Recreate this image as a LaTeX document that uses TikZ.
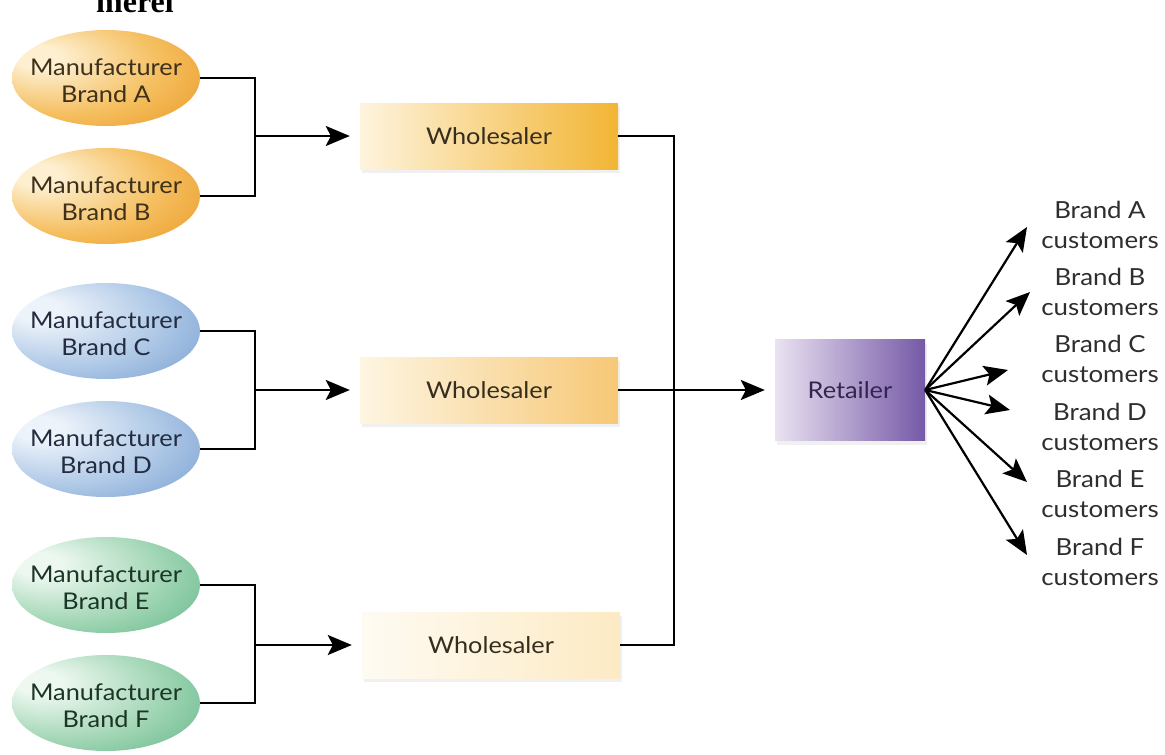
\documentclass[tikz,border=0pt]{standalone}
\usepackage{fontspec}
\setmainfont[FakeStretch=1.1]{Lato}
\newfontfamily\cutserif{Liberation Serif}
\usetikzlibrary{arrows.meta,shapes.geometric,shadows}

% palette
\definecolor{orL}{HTML}{FDEFCF}
\definecolor{orM}{HTML}{F5BE5E}
\definecolor{orD}{HTML}{E68E17}
\definecolor{blL}{HTML}{EDF3FA}
\definecolor{blM}{HTML}{AEC8E6}
\definecolor{blD}{HTML}{6893CB}
\definecolor{grL}{HTML}{EDF8F0}
\definecolor{grM}{HTML}{A2D6B5}
\definecolor{grD}{HTML}{4FAE7B}
\definecolor{txO}{HTML}{3E301A}
\definecolor{txB}{HTML}{232C40}
\definecolor{txG}{HTML}{1B3526}
\definecolor{txW}{HTML}{352D1E}
\definecolor{wgold}{HTML}{F2B534}
\definecolor{rtL}{HTML}{EAE2F2}
\definecolor{rtD}{HTML}{7559A6}
\definecolor{rtT}{HTML}{352450}
\definecolor{custT}{HTML}{2E2E2E}

% highlight sits up and to the left on each manufacturer oval
\pgfdeclareradialshading{orangeball}{\pgfpoint{-20bp}{12bp}}{%
  color(0bp)=(orL); color(6bp)=(orL); color(26bp)=(orM); color(48bp)=(orD); color(60bp)=(orD)}
\pgfdeclareradialshading{blueball}{\pgfpoint{-20bp}{12bp}}{%
  color(0bp)=(blL); color(6bp)=(blL); color(26bp)=(blM); color(48bp)=(blD); color(60bp)=(blD)}
\pgfdeclareradialshading{greenball}{\pgfpoint{-20bp}{12bp}}{%
  color(0bp)=(grL); color(6bp)=(grL); color(26bp)=(grM); color(48bp)=(grD); color(60bp)=(grD)}

\tikzset{
  manu/.style={ellipse, minimum width=188pt, minimum height=96pt, inner sep=0pt},
  mtext/.style={align=center, inner sep=0pt, yshift=-3pt, font=\fontsize{23}{27}\selectfont},
  whole/.style={rectangle, minimum width=258pt, minimum height=66pt, inner sep=0pt,
    text=txW, font=\fontsize{23}{27}\selectfont,
    drop shadow={opacity=0.12, shadow xshift=2pt, shadow yshift=-4pt}},
  shop/.style={rectangle, minimum width=150pt, minimum height=101pt, inner sep=0pt,
    left color=rtL, right color=rtD, text=rtT, font=\fontsize{23}{27}\selectfont,
    drop shadow={opacity=0.12, shadow xshift=2pt, shadow yshift=-4pt}},
  cust/.style={align=center, text=custT, font=\fontsize{23.5}{30}\selectfont},
  wire/.style={line width=2.2pt, black},
  flow/.style={wire, -{Stealth[length=24pt,width=20pt,inset=5pt]}},
}

\begin{document}
\begin{tikzpicture}[x=1pt, y=-1pt]
  \useasboundingbox (0,0) rectangle (1165,755);

  % line of text running off the top edge
  \begin{scope}
    \clip (0,0) rectangle (1165,755);
    \node[anchor=base, inner sep=0pt, font=\cutserif\bfseries\fontsize{32}{32}\selectfont] (cut) at (135,12) {merel};
  \end{scope}

  % manufacturers: fixed-size ovals, text laid on top
  \node[manu, shading=orangeball] (mA) at (106,78)  {};
  \node[manu, shading=orangeball] (mB) at (106,196) {};
  \node[manu, shading=blueball]   (mC) at (106,331) {};
  \node[manu, shading=blueball]   (mD) at (106,449) {};
  \node[manu, shading=greenball]  (mE) at (106,585) {};
  \node[manu, shading=greenball]  (mF) at (106,703) {};
  \node[mtext, text=txO] (lA) at (mA) {Manufacturer\\Brand A};
  \node[mtext, text=txO] (lB) at (mB) {Manufacturer\\Brand B};
  \node[mtext, text=txB] (lC) at (mC) {Manufacturer\\Brand C};
  \node[mtext, text=txB] (lD) at (mD) {Manufacturer\\Brand D};
  \node[mtext, text=txG] (lE) at (mE) {Manufacturer\\Brand E};
  \node[mtext, text=txG] (lF) at (mF) {Manufacturer\\Brand F};

  % wholesalers
  \node[whole, left color=orL!70, right color=wgold]      (w1) at (489,136) {Wholesaler};
  \node[whole, left color=orL!60, right color=orM!85]     (w2) at (489,390) {Wholesaler};
  \node[whole, left color=orL!25, right color=orL!90!orM] (w3) at (491,645) {Wholesaler};

  % retailer
  \node[shop] (ret) at (850,390) {Retailer};

  % junction points of the brackets
  \coordinate (j1) at (255,136);
  \coordinate (j2) at (255,390);
  \coordinate (j3) at (255,645);
  \coordinate (bus) at (674,390);

  \draw[wire] (mA.east) -| (j1) |- (mB.east);
  \draw[wire] (mC.east) -| (j2) |- (mD.east);
  \draw[wire] (mE.east) -| (j3) |- (mF.east);
  \draw[flow, shorten >=10pt] (j1) -- (w1.west);
  \draw[flow, shorten >=10pt] (j2) -- (w2.west);
  \draw[flow, shorten >=10pt] (j3) -- (w3.west);

  \draw[wire] (w1.east) -| (bus);
  \draw[wire] (w3.east) -| (bus);
  \draw[flow, shorten >=10pt] (w2.east) -- (ret.west);

  % customer groups
  \node[cust] (cA) at (1100,225) {Brand A\\customers};
  \node[cust] (cB) at (1100,292) {Brand B\\customers};
  \node[cust] (cC) at (1100,359) {Brand C\\customers};
  \node[cust] (cD) at (1100,427) {Brand D\\customers};
  \node[cust] (cE) at (1100,494) {Brand E\\customers};
  \node[cust] (cF) at (1100,562) {Brand F\\customers};

  \coordinate (tA) at (1027,227);
  \coordinate (tB) at (1030,292);
  \coordinate (tC) at (1008,370);
  \coordinate (tD) at (1010,410);
  \coordinate (tE) at (1027,482);
  \coordinate (tF) at (1027,555);

  \foreach \t in {tA,tB,tC,tD,tE,tF}
    \draw[flow] (ret.east) -- (\t);
\end{tikzpicture}
\end{document}
